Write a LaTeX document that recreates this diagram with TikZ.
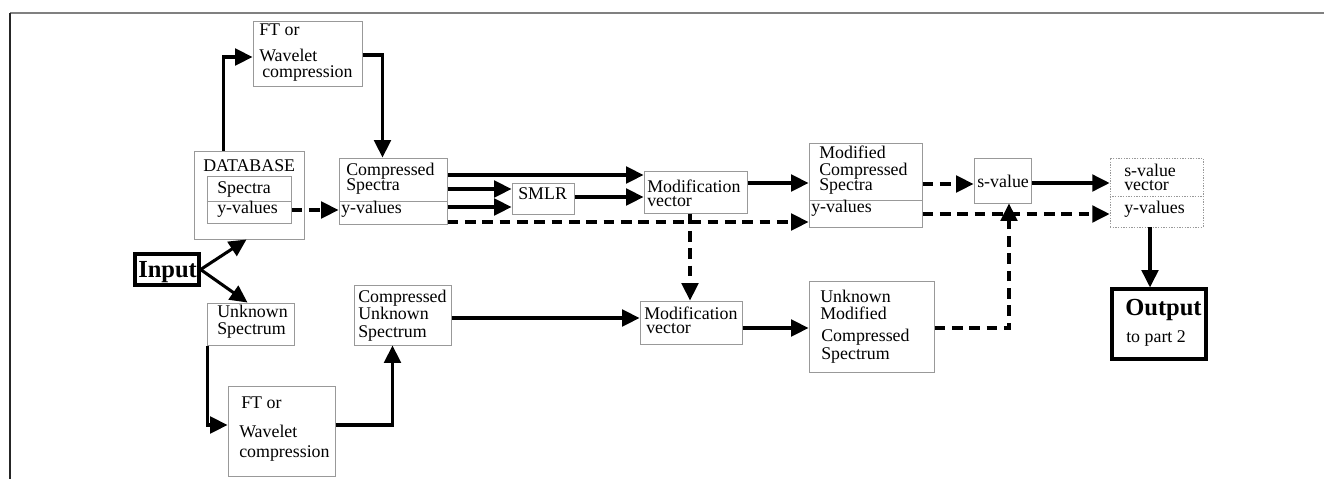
\documentclass[tikz,border=0pt]{standalone}
\usepackage{fontspec}
\setmainfont{Liberation Serif}
\usetikzlibrary{arrows.meta,calc,fit}
\begin{document}
\begin{tikzpicture}[x=0.75pt,y=-0.75pt,
  box/.style={draw=black!40, line width=0.75pt, inner sep=0pt},
  dotbox/.style={draw=black!40, line width=0.6pt, dash pattern=on 1pt off 1pt, inner sep=0pt},
  thickbox/.style={draw=black, line width=2.4pt, inner sep=0pt},
  divider/.style={draw=black!40, line width=0.75pt},
  conn/.style={line width=2.3pt, -{Triangle[length=13pt,width=12.5pt]}},
  dconn/.style={conn, dash pattern=on 8pt off 5pt},
  txt/.style={anchor=base west, inner sep=0pt, font=\fontsize{13.4}{14}\selectfont},
  btxt/.style={anchor=base west, inner sep=0pt, font=\fontsize{18.4}{20}\selectfont\bfseries}]
\useasboundingbox (0,0) rectangle (1324,479);
% frame
\draw[black!50, line width=1.5pt] (10,13) -- (1324,13);
\draw[black!85, line width=1.2pt] (10,13) -- (10,479);

% boxes
\node[box, fit={(253,21) (362,86)}] (ft1) {};
\node[box, fit={(194,151) (304,239)}] (db) {};
\node[box, fit={(207,176) (291,223)}] (dbin) {};
\draw[divider] (dbin.west |- 0,201) -- (dbin.east |- 0,201);
\node[box, fit={(339,158) (447,224)}] (cs) {};
\draw[divider] (cs.west |- 0,201) -- (cs.east |- 0,201);
\node[thickbox, fit={(135,254) (199,285)}] (inp) {};
\node[box, fit={(207,303) (294,345)}] (us) {};
\node[box, fit={(228,386) (335,476)}] (ft2) {};
\node[box, fit={(354,285) (451,345)}] (cus) {};
\node[box, fit={(512,183) (574,214)}] (smlr) {};
\node[box, fit={(644,171) (747,213)}] (mv1) {};
\node[box, fit={(640,301) (742,344)}] (mv2) {};
\node[box, fit={(809,143) (922,227)}] (mcs) {};
\draw[divider] (mcs.west |- 0,200) -- (mcs.east |- 0,200);
\node[box, fit={(809,281) (934,372)}] (umcs) {};
\node[box, fit={(974,158) (1031,203)}] (sval) {};
\node[dotbox, fit={(1110,158) (1203,227)}] (svv) {};
\draw[dotbox] (svv.west |- 0,196) -- (svv.east |- 0,196);
\node[thickbox, fit={(1112,289) (1206,359)}] (out) {};

% texts
\node[txt] (t1) at (259,35) {FT or};
\node[txt] (t2) at (259,61) {Wavelet};
\node[txt] (t3) at (262,77) {compression};
\node[txt] (t4) at (203,171) {DATABASE};
\node[txt] (t5) at (217,193) {Spectra};
\node[txt] (t6) at (217,213) {y-values};
\node[txt] (t7) at (346,175) {Compressed};
\node[txt] (t8) at (346,190) {Spectra};
\node[txt] (t9) at (341,213) {y-values};
\node[btxt] (t10) at (138,277) {Input};
\node[txt] (t11) at (217,317) {Unknown};
\node[txt] (t12) at (217,334) {Spectrum};
\node[txt] (t13) at (241,408) {FT or};
\node[txt] (t14) at (239,437) {Wavelet};
\node[txt] (t15) at (239,457) {compression};
\node[txt] (t16) at (358,302) {Compressed};
\node[txt] (t17) at (358,319) {Unknown};
\node[txt] (t18) at (358,337) {Spectrum};
\node[txt] (t19) at (518,199) {SMLR};
\node[txt] (t20) at (647,192) {Modification};
\node[txt] (t21) at (647,206) {vector};
\node[txt] (t22) at (644,319) {Modification};
\node[txt] (t23) at (646,333) {vector};
\node[txt] (t24) at (819,158) {Modified};
\node[txt] (t25) at (819,175) {Compressed};
\node[txt] (t26) at (819,190) {Spectra};
\node[txt] (t27) at (811,212) {y-values};
\node[txt] (t28) at (820,302) {Unknown};
\node[txt] (t29) at (820,319) {Modified};
\node[txt] (t30) at (821,341) {Compressed};
\node[txt] (t31) at (821,359) {Spectrum};
\node[txt] (t32) at (977,187) {s-value};
\node[txt] (t33) at (1124,176) {s-value};
\node[txt] (t34) at (1124,190) {vector};
\node[txt] (t35) at (1124,213) {y-values};
\node[btxt] (t36) at (1125,315) {Output};
\node[txt] (t37) at (1126,342) {to part 2};

% connectors
\draw[conn] ($(db.north west)+(30,0)$) |- (ft1.west |- 0,57);
\draw[conn] (ft1.east |- 0,55) -| ($(cs.north west)+(44,0)$);
\draw[dconn] (dbin.east |- 0,210) -- (cs.west |- 0,210);
\draw[conn] (inp.east) -- ($(db.south west)+(53,0)$);
\draw[conn] (inp.east) -- ($(us.north west)+(41,0)$);
\draw[conn] ($(us.south west)+(1,0)$) |- (ft2.west |- 0,425);
\draw[conn] (ft2.east |- 0,425) -| ($(cus.south west)+(39,0)$);
\draw[conn] (cus.east |- 0,318) -- (mv2.west |- 0,318);
\draw[conn] (cs.east |- 0,175) -- (mv1.west |- 0,175);
\draw[conn] (cs.east |- 0,189) -- (smlr.west |- 0,189);
\draw[conn] (cs.east |- 0,207) -- (smlr.west |- 0,207);
\draw[dconn] (cs.east |- 0,222) -- (mcs.west |- 0,222);
\draw[conn] (smlr.east |- 0,197) -- (mv1.west |- 0,197);
\draw[conn] (mv1.east |- 0,183) -- (mcs.west |- 0,183);
\draw[dconn] (mv1.south -| 690,0) -- (mv2.north -| 690,0);
\draw[conn] (mv2.east |- 0,328) -- (umcs.west |- 0,328);
\draw[dconn] (mcs.east |- 0,184) -- (sval.west |- 0,184);
\draw[conn] (sval.east |- 0,183) -- (svv.west |- 0,183);
\draw[dconn] (mcs.east |- 0,214) -- (svv.west |- 0,214);
\draw[dconn] (umcs.east |- 0,328) -| (sval.south -| 1009,0);
\draw[conn] (svv.south -| 1150,0) -- (out.north -| 1150,0);
\end{tikzpicture}
\end{document}
